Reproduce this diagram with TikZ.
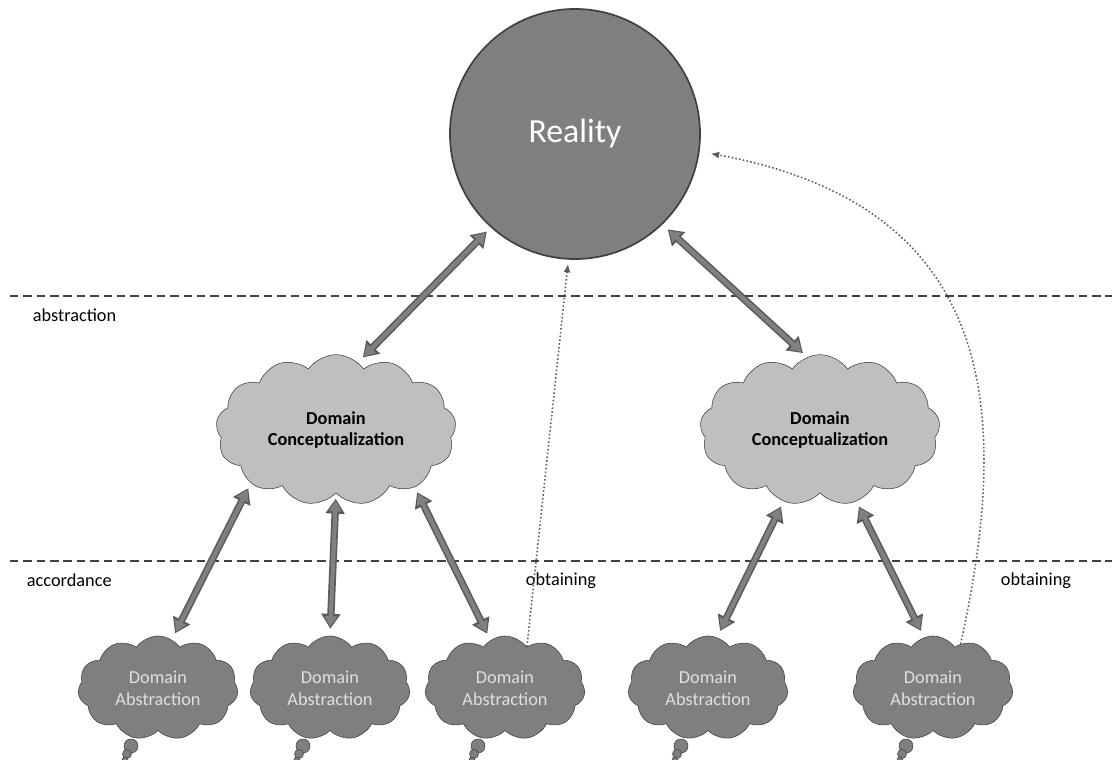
\documentclass[tikz,border=0pt]{standalone}
\usepackage{fontspec}
\setmainfont{Carlito}
\usetikzlibrary{shapes.symbols,arrows.meta}

\definecolor{darkfill}{HTML}{7F7F7F}
\definecolor{lightfill}{HTML}{BFBFBF}
\definecolor{edgegray}{HTML}{404040}
\definecolor{arrowgray}{HTML}{808080}
\definecolor{arrowedge}{HTML}{5A5A5A}

\begin{document}
\begin{tikzpicture} [
                x=0.025cm, y=-0.025cm,
                realitynode/.style={
                    circle,
                    draw=edgegray,
                    fill=darkfill,
                    line width=1.2pt,
                    minimum size=6.25cm,
                    text=white,
                    font=\fontsize{24}{28}\selectfont
                },
                conceptnode/.style={
                    cloud,
                    cloud puffs=13,
                    cloud puff arc=110,
                    aspect=1.6,
                    draw=edgegray,
                    fill=lightfill,
                    minimum width=6cm,
                    minimum height=3.7cm,
                    align=center,
                    font=\fontsize{13}{15.5}\selectfont\bfseries
                },
                abstractnode/.style={
                    cloud,
                    cloud puffs=11,
                    cloud puff arc=110,
                    aspect=1.55,
                    draw=edgegray,
                    fill=darkfill,
                    minimum width=4cm,
                    minimum height=2.6cm,
                    align=center,
                    text=white!88!black,
                    font=\fontsize{13}{15.5}\selectfont
                },
                labelnode/.style={
                    anchor=west,
                    font=\fontsize{13}{15.5}\selectfont
                },
                levelline/.style={
                    line width=1pt,
                    edgegray,
                    dash pattern=on 6pt off 3.5pt
                },
                bigarrow/.style={
                    line width=5.2pt,
                    arrowedge,
                    {Triangle[width=0.46cm,length=0.37cm]}-{Triangle[width=0.46cm,length=0.37cm]}
                },
                bigarrowin/.style={
                    line width=3pt,
                    arrowgray,
                    {Triangle[width=0.31cm,length=0.27cm]}-{Triangle[width=0.31cm,length=0.27cm]}
                },
                obtainarrow/.style={
                    line width=1.1pt,
                    dash pattern=on 1.1pt off 1.6pt,
                    arrowedge,
                    -{Latex[length=6pt,width=5pt]}
                },
                tailbubble/.style={
                    draw=edgegray,
                    fill=darkfill
                }
            ]
                \useasboundingbox (0,0) rectangle (1112,760);

                % levels
                \draw[levelline] (10,296) -- (1112,296);
                \draw[levelline] (10,561) -- (1112,561);
                \node[labelnode] (labAbs)  at (28,315) {abstraction};
                \node[labelnode] (labAcc)  at (22,580) {accordance};
                \node[labelnode] (labObt1) at (521,581) {obtaining};
                \node[labelnode] (labObt2) at (996,581) {obtaining};

                % nodes
                \node[realitynode]  (reality) at (575,134) {Reality};
                \node[conceptnode]  (conc1)   at (336,430) {Domain\\Conceptualization};
                \node[conceptnode]  (conc2)   at (820,430) {Domain\\Conceptualization};
                \foreach \i/\x in {1/158, 2/330, 3/505, 4/708, 5/933} {
                    \draw[tailbubble] (\x-27,746) circle[radius=7];
                    \draw[tailbubble] (\x-31,754) circle[radius=4.5];
                    \draw[tailbubble] (\x-33,760) circle[radius=3];
                    \node[abstractnode] (abs\i) at (\x,688) {Domain\\Abstraction};
                }

                % accordance / abstraction arrows
                \foreach \a/\b in {conc1.72/reality.228, reality.314/conc2.100,
                                   abs1.74/conc1.212, abs2.90/conc1.270, abs3.107/conc1.324,
                                   abs4.80/conc2.243, abs5.100/conc2.297} {
                    \draw[bigarrow, shorten <=5pt, shorten >=4pt] (\a) -- (\b);
                    \draw[bigarrowin, shorten <=6.3pt, shorten >=5.3pt] (\a) -- (\b);
                }

                % obtaining
                \draw[obtainarrow, shorten >=3pt] (abs3.62) -- (reality.267);
                \draw[obtainarrow, shorten >=8pt] (abs5.58) .. controls (1015,400) and (990,205) .. (reality.352);
            \end{tikzpicture}
\end{document}
